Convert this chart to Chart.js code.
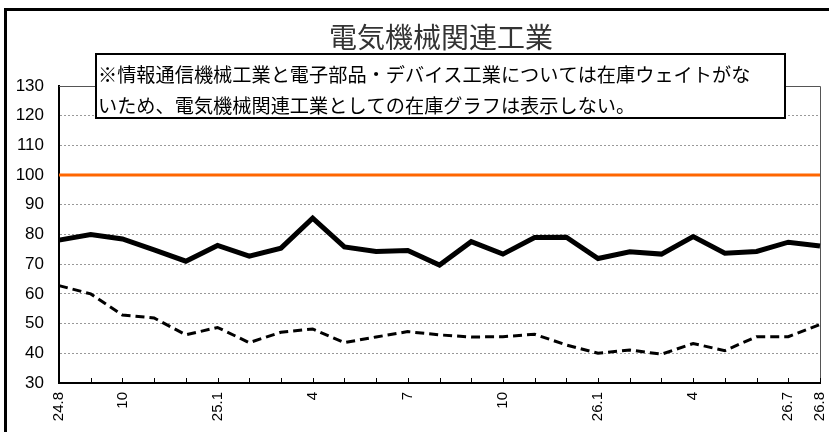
<!DOCTYPE html>
<html>
<head>
<meta charset="utf-8">
<script src="https://cdn.jsdelivr.net/npm/chart.js@4/dist/chart.umd.min.js"></script>
<style>
html,body{margin:0;padding:0;background:#fff;}
canvas{display:block;}
</style>
</head>
<body>
<canvas id="c" width="829" height="432"></canvas>
<script>
const months = ["24.8","9","10","11","12","25.1","2","3","4","5","6","7","8","9","10","11","12","26.1","2","3","4","5","6","26.7","26.8"];
const shownLabels = ["24.8","","10","","","25.1","","","4","","","7","","","10","","","26.1","","","4","","","26.7","26.8"];
const seriesSolid = [78.1,80.0,78.5,74.8,71.0,76.3,72.7,75.4,85.5,75.8,74.3,74.6,69.7,77.6,73.4,79.0,79.1,71.9,74.2,73.4,79.3,73.7,74.3,77.4,76.1];
const seriesDashed = [62.8,60.0,52.9,51.9,46.2,48.7,43.6,47.1,48.2,43.6,45.5,47.3,46.2,45.5,45.6,46.4,42.8,40.0,41.1,39.7,43.3,40.9,45.6,45.6,49.7];
const yTicks = [30,40,50,60,70,80,90,100,110,120,130];
const baseLine = 100;
const titleText = "電気機械関連工業";
const noteLines = ["※情報通信機械工業と電子部品・デバイス工業については在庫ウェイトがな","いため、電気機械関連工業としての在庫グラフは表示しない。"];

const jp = '"Noto Sans CJK JP", "Noto Sans", sans-serif';

const decor = {
  id: 'decor',
  beforeDatasetsDraw(chart) {
    const ctx = chart.ctx, a = chart.chartArea, ys = chart.scales.y, xs = chart.scales.x;
    ctx.save();
    ctx.strokeStyle = '#555';
    ctx.lineWidth = 1;
    ctx.beginPath();
    ctx.moveTo(a.left, Math.round(a.top) + 0.5);
    ctx.lineTo(Math.round(a.right) + 0.5, Math.round(a.top) + 0.5);
    ctx.lineTo(Math.round(a.right) + 0.5, a.bottom);
    ctx.stroke();
    const yb = ys.getPixelForValue(baseLine);
    ctx.strokeStyle = '#FF6600';
    ctx.lineWidth = 3;
    ctx.beginPath();
    ctx.moveTo(a.left, yb);
    ctx.lineTo(a.right, yb);
    ctx.stroke();
    ctx.strokeStyle = '#000';
    ctx.lineWidth = 1;
    ctx.beginPath();
    for (let i = 0; i < months.length; i++) {
      const x = Math.round(xs.getPixelForValue(i)) + 0.5;
      ctx.moveTo(x, a.bottom);
      ctx.lineTo(x, a.bottom - 5);
    }
    ctx.stroke();
    ctx.restore();
  },
  afterDraw(chart) {
    const ctx = chart.ctx;
    ctx.save();
    ctx.fillStyle = '#000';
    ctx.fillRect(4, 8, 3, 432);
    ctx.fillRect(4, 8, 825, 3);
    ctx.fillStyle = '#333';
    ctx.font = '28px ' + jp;
    ctx.textAlign = 'center';
    ctx.textBaseline = 'middle';
    ctx.fillText(titleText, 441, 37);
    ctx.fillStyle = '#fff';
    ctx.fillRect(95, 53, 691, 66);
    ctx.strokeStyle = '#000';
    ctx.lineWidth = 2;
    ctx.strokeRect(96, 54, 689, 64);
    ctx.fillStyle = '#000';
    ctx.font = '19.2px ' + jp;
    ctx.textAlign = 'left';
    ctx.fillText(noteLines[0], 98, 75);
    ctx.fillText(noteLines[1], 98, 106);
    ctx.restore();
  }
};

new Chart(document.getElementById('c'), {
  type: 'line',
  data: {
    labels: months,
    datasets: [
      { data: seriesSolid, borderColor: '#000', borderWidth: 5, pointRadius: 0, tension: 0, fill: false, borderJoinStyle: 'miter' },
      { data: seriesDashed, borderColor: '#000', borderWidth: 3, borderDash: [9, 5], pointRadius: 0, tension: 0, fill: false }
    ]
  },
  options: {
    responsive: false,
    animation: false,
    layout: { padding: { top: 86, left: 0, right: 9, bottom: 0 } },
    plugins: { legend: { display: false }, title: { display: false }, tooltip: { enabled: false } },
    scales: {
      x: {
        offset: false,
        grid: { display: false, drawTicks: false },
        border: { display: true, color: '#000', width: 2 },
        ticks: {
          autoSkip: false, maxRotation: 90, minRotation: 90, padding: 9,
          color: '#000',
          font: { family: '"Liberation Sans", Arial, sans-serif', size: 15 },
          callback: (v, i) => shownLabels[i]
        },
        afterFit(s) { s.height = 49; s.paddingLeft = 0; s.paddingRight = 0; }
      },
      y: {
        min: 30, max: 130,
        afterBuildTicks(s) { s.ticks = yTicks.map(v => ({ value: v })); },
        grid: {
          drawTicks: false,
          color: (c) => (c.tick && (c.tick.value === 30 || c.tick.value === 130 || c.tick.value === baseLine)) ? 'rgba(0,0,0,0)' : '#999',
          lineWidth: 1
        },
        border: { display: true, color: '#000', width: 2, dash: [2, 2] },
        ticks: {
          padding: 15, color: '#000',
          font: { family: '"Liberation Sans", Arial, sans-serif', size: 17 }
        },
        afterFit(s) { s.width = 59; s.paddingTop = 0; s.paddingBottom = 0; }
      }
    }
  },
  plugins: [decor]
});
</script>
</body>
</html>
